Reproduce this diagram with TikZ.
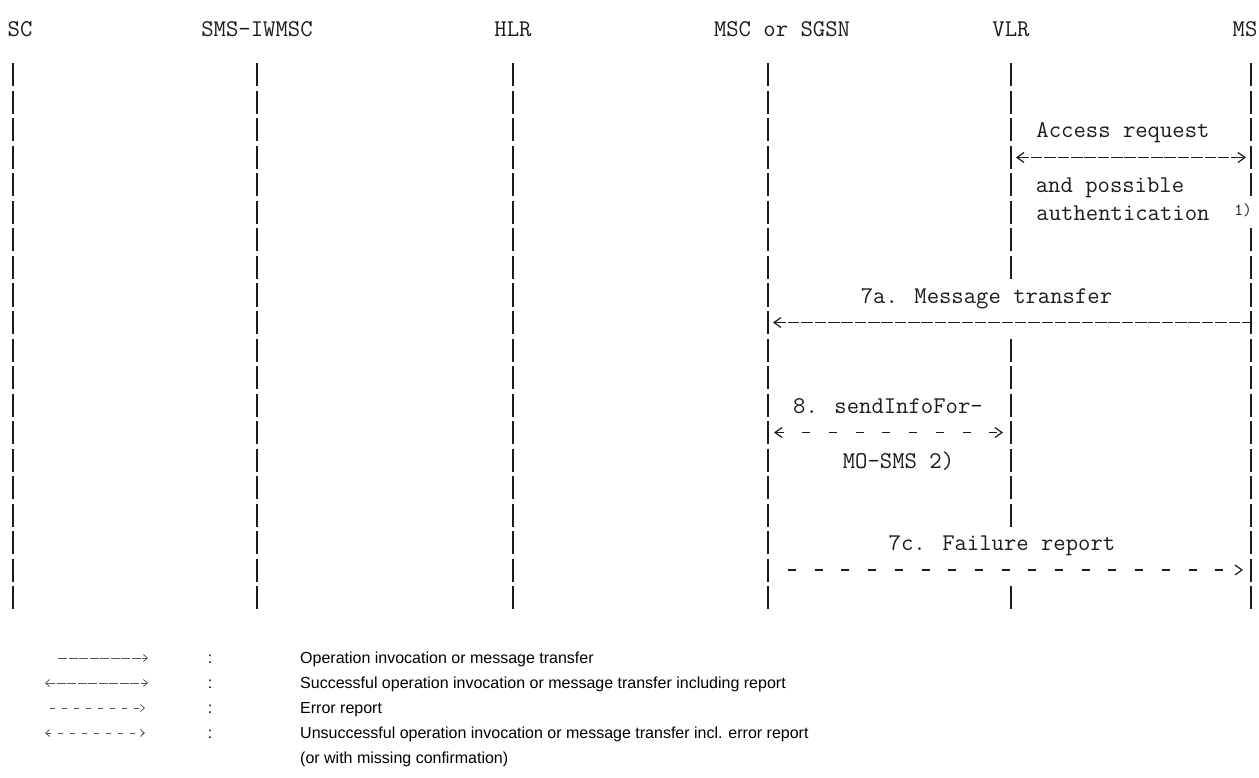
\documentclass[tikz,border=0pt]{standalone}
\usepackage{fontspec}
\newfontfamily\keyfont{Liberation Sans}
\usetikzlibrary{arrows.meta}
\definecolor{InkDark}{HTML}{1C1C1C}
\definecolor{KeyGray}{HTML}{555555}

\tikzset{
  entity/.style={font=\ttfamily\fontsize{24}{24}\selectfont, text=InkDark, inner sep=0pt},
  msgtext/.style={font=\ttfamily\fontsize{24}{24}\selectfont, text=InkDark, inner sep=0pt, anchor=base},
  fnote/.style={font=\ttfamily\fontsize{17}{17}\selectfont, text=InkDark, inner sep=0pt},
  lifebar/.style={draw=InkDark, line width=1.8pt},
  okline/.style={draw=InkDark, line width=1.6pt, dash pattern=on 11.5pt off 1.85pt},
  errline/.style={draw=InkDark, line width=1.6pt, dash pattern=on 8pt off 18.7pt},
  chev/.style={>={Straight Barb[length=7pt,width=10pt,line width=1.2pt]}},
  keyok/.style={draw=KeyGray, line width=0.9pt, dash pattern=on 9pt off 1.5pt},
  keyerr/.style={draw=KeyGray, line width=0.9pt, dash pattern=on 5pt off 7pt},
  keychev/.style={>={Straight Barb[length=4pt,width=7pt,line width=0.8pt]}},
  legtext/.style={font=\keyfont\fontsize{16}{16}\selectfont, anchor=base west, inner sep=0pt},
  legcolon/.style={font=\keyfont\fontsize{16}{16}\selectfont, anchor=base, inner sep=0pt},
}

\begin{document}
\begin{tikzpicture}[x=1pt,y=-1pt]
  \fill[white] (0,0) rectangle (1259,778);
  \useasboundingbox (0,0) rectangle (1259,778);

  % entities
  \node[entity] (sc)    at (20,29)   {SC};
  \node[entity] (iwmsc) at (257,29)  {SMS-IWMSC};
  \node[entity] (hlr)   at (513,29)  {HLR};
  \node[entity] (msc)   at (782,29)  {MSC or SGSN};
  \node[entity] (vlr)   at (1011,29) {VLR};
  \node[entity] (ms)    at (1245,29) {MS};

  % lifelines, one bar per text row
  \foreach \lx/\rows in {13/{1,...,20}, 257/{1,...,20}, 513/{1,...,20}, 768/{1,...,20},
      1011/{1,2,3,4,5,6,7,8,11,12,13,14,15,16,17,20},
      1251/{1,2,3,4,5,7,8,9,10,11,12,13,14,15,16,17,18,19,20}} {
    \foreach \k in \rows {
      \draw[lifebar] (\lx,{75+27.5*(\k-1)-11.5}) -- (\lx,{75+27.5*(\k-1)+11.5});
    }
  }

  % message ends on the lifelines
  \coordinate (vlr-4)  at (1011,157.5);
  \coordinate (ms-4)   at (1251,157.5);
  \coordinate (msc-10) at (768,322.5);
  \coordinate (ms-10)  at (1251,322.5);
  \coordinate (msc-14) at (768,432.5);
  \coordinate (vlr-14) at (1011,432.5);
  \coordinate (msc-19) at (768,570);
  \coordinate (ms-19)  at (1251,570);

  % access request
  \node[msgtext] (acc)  at (1123,138)   {Access request};
  \draw[okline, chev, <->, shorten <=5pt, shorten >=5pt] (vlr-4) -- (ms-4);
  \node[msgtext] (poss) at (1110,193)   {and possible};
  \node[msgtext] (auth) at (1123,220.5) {authentication};
  \node[fnote]   (fn1)  at (1243,210)   {1)};

  % 7a
  \node[msgtext] (m7a) at (986.5,303) {7a. Message transfer};
  \draw[okline, chev, <-, shorten <=5pt] (msc-10) -- (ms-10);

  % 8
  \node[msgtext] (m8)  at (888,413)   {8. sendInfoFor-};
  \draw[errline, chev, <->, shorten <=6pt, shorten >=8pt] (msc-14) -- (vlr-14);
  \node[msgtext] (m8b) at (898.5,468) {MO-SMS 2)};

  % 7c
  \node[msgtext] (m7c) at (1002,550.5) {7c. Failure report};
  \draw[errline, chev, ->, shorten <=20pt, shorten >=8pt] (msc-19) -- (ms-19);

  % key
  \coordinate (k1w) at (58,658);  \coordinate (k1e) at (148,658);
  \coordinate (k2w) at (45,683);  \coordinate (k2e) at (148,683);
  \coordinate (k3w) at (50,708);  \coordinate (k3e) at (145,708);
  \coordinate (k4w) at (45,733);  \coordinate (k4e) at (145,733);
  \draw[keyok, keychev, ->]   (k1w) -- (k1e);
  \draw[keyok, keychev, <->]  (k2w) -- (k2e);
  \draw[keyerr, keychev, ->]  (k3w) -- (k3e);
  \draw[keyerr, keychev, <->] (k4w) -- (k4e);

  \foreach \i/\txt in {1/Operation invocation or message transfer,
      2/Successful operation invocation or message transfer including report,
      3/Error report,
      4/Unsuccessful operation invocation or message transfer incl. error report} {
    \node[legcolon] (col\i) at (210,{638+25*\i}) {:};
    \node[legtext]  (leg\i) at (300,{638+25*\i}) {\txt};
  }
  \node[legtext] (leg5) at (300,763) {(or with missing confirmation)};
\end{tikzpicture}
\end{document}
